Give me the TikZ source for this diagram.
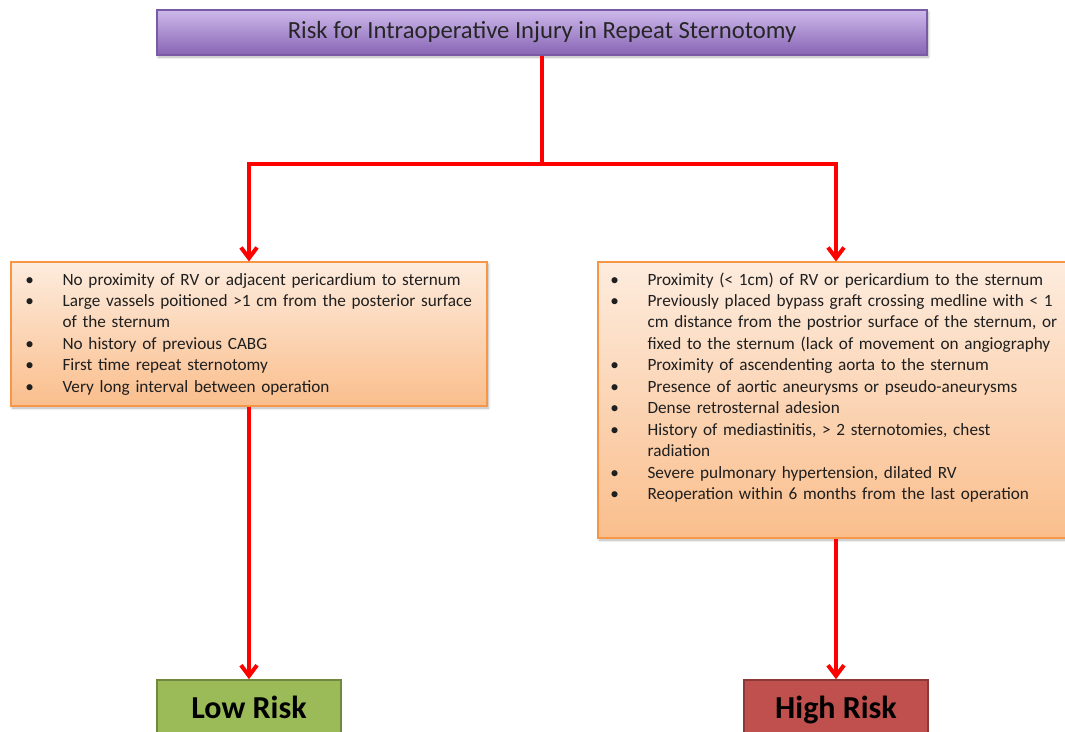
\documentclass[tikz,border=0pt]{standalone}
\usepackage{fontspec}
\setmainfont{Carlito}
\usetikzlibrary{arrows.meta,shadows.blur}
\definecolor{riskred}{RGB}{255,0,0}
\definecolor{titletop}{RGB}{205,185,235}
\definecolor{titlebottom}{RGB}{135,100,180}
\definecolor{titleedge}{RGB}{120,90,165}
\definecolor{factortop}{RGB}{253,236,222}
\definecolor{factorbottom}{RGB}{250,190,140}
\definecolor{factoredge}{RGB}{247,150,70}
\definecolor{lowfill}{RGB}{155,187,89}
\definecolor{lowedge}{RGB}{113,137,63}
\definecolor{highfill}{RGB}{192,80,77}
\definecolor{highedge}{RGB}{140,56,54}
\tikzset{
	boxshadow/.style={blur shadow={shadow xshift=1pt, shadow yshift=-1.5pt, shadow blur steps=4, shadow opacity=30}},
	titlebox/.style={draw=titleedge, line width=0.8pt, top color=titletop, bottom color=titlebottom,
			minimum width=577.5pt, minimum height=33.75pt, inner sep=0pt, boxshadow,
			font=\fontsize{18.5}{22}\selectfont, text=black!85},
	factorbox/.style={draw=factoredge, line width=0.8pt, top color=factortop, bottom color=factorbottom,
			minimum width=357pt, inner sep=0pt, boxshadow},
	factorlist/.style={anchor=base west, inner sep=0pt, text width=350pt, align=left,
			font=\fontsize{12.9}{16.1}\selectfont, text=black!88},
	riskbox/.style={line width=1.2pt, minimum width=138pt, minimum height=42pt, inner sep=0pt,
			text height=15.5pt, text depth=0pt,
			font=\fontsize{24}{28}\selectfont\bfseries, text=black},
	flow/.style={draw=riskred, line width=3pt},
	flowarrow/.style={flow, -{Straight Barb[length=8pt,width=12pt]}}
}
\newcommand{\riskitem}[1]{\noindent\hangindent=28pt\hangafter=1\makebox[28pt][l]{\textbullet}#1\par}

\begin{document}
\begin{tikzpicture}[x=0.75pt, y=-0.75pt]
	\useasboundingbox (0,0) rectangle (1065,732);

	% question at the top
	\node[titlebox] (title) at (542,32.5) {Risk for Intraoperative Injury in Repeat Sternotomy};

	% the two sets of findings
	\node[factorbox, minimum height=108pt] (lowbox) at (249,334) {};
	\node[factorbox, minimum height=207pt] (highbox) at (836,400) {};

	\node[factorlist] (lowlist) at (25,285) {
		\riskitem{No proximity of RV or adjacent pericardium to sternum}
		\riskitem{Large vassels poitioned >1 cm from the posterior surface\newline of the sternum}
		\riskitem{No history of previous CABG}
		\riskitem{First time repeat sternotomy}
		\riskitem{Very long interval between operation}
	};
	\node[factorlist] (highlist) at (610,285) {
		\riskitem{Proximity (< 1cm) of RV or pericardium to the sternum}
		\riskitem{Previously placed bypass graft crossing medline with < 1\newline cm distance from the postrior surface of the sternum, or\newline fixed to the sternum (lack of movement on angiography}
		\riskitem{Proximity of ascendenting aorta to the sternum}
		\riskitem{Presence of aortic aneurysms or pseudo-aneurysms}
		\riskitem{Dense retrosternal adesion}
		\riskitem{History of mediastinitis, > 2 sternotomies, chest\newline radiation}
		\riskitem{Severe pulmonary hypertension, dilated RV}
		\riskitem{Reoperation within 6 months from the last operation}
	};

	% outcome
	\node[riskbox, draw=lowedge, fill=lowfill] (low) at (249,708) {Low Risk};
	\node[riskbox, draw=highedge, fill=highfill] (high) at (836,708) {High Risk};

	% connectors
	\coordinate (split) at (542,164);
	\draw[flow] (title.south) -- (split);
	\draw[flowarrow] (split) -| (lowbox.north);
	\draw[flowarrow] (split) -| (highbox.north);
	\draw[flowarrow] (lowbox.south) -- (low.north);
	\draw[flowarrow] (highbox.south) -- (high.north);
\end{tikzpicture}
\end{document}
